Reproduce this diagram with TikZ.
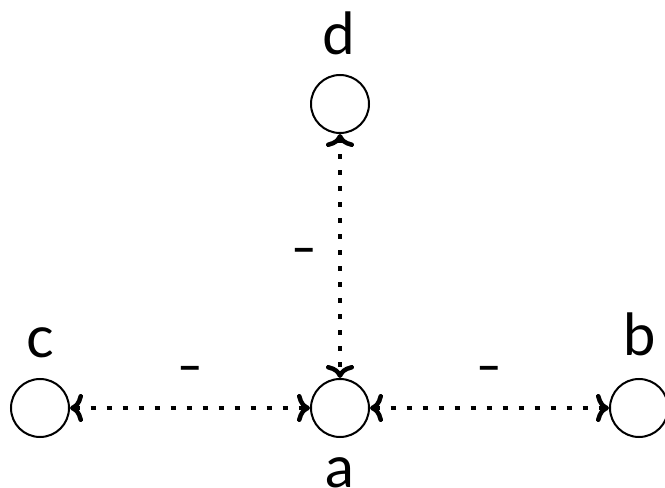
\documentclass[tikz,border=0pt]{standalone}
\usepackage{fontspec}
\setmainfont{Lato}
\usetikzlibrary{arrows.meta}
\definecolor{gink}{RGB}{0,0,0}
\tikzset{
  vert/.style={draw=gink,circle,line width=2pt,minimum size=58pt,inner sep=0pt},
  vlabel/.style={font=\fontsize{58}{66}\selectfont,text=gink,inner sep=0pt},
  signlabel/.style={font=\fontsize{44}{52}\selectfont\bfseries,text=gink,inner sep=0pt,anchor=base},
  tipcm/.tip={Computer Modern Rightarrow[length=13pt,width=28pt,line width=4.5pt]},
  link/.style={gink,line width=4pt,dash pattern=on 5pt off 11pt,tipcm-tipcm}
}
\begin{document}
\begin{tikzpicture}[x=1pt,y=1pt]
        \useasboundingbox (0,0) rectangle (665,488);
        \node[vert] (a) at (340,80) {};
        \node[vert] (b) at (639,80) {};
        \node[vert] (c) at (40,80) {};
        \node[vert] (d) at (340,384) {};
        \node[vlabel] at (340,15.5) {a};
        \node[vlabel] at (640,154) {b};
        \node[vlabel] at (40,145.5) {c};
        \node[vlabel] at (339,455) {d};
        \draw[link] (c) -- (a) node[signlabel,midway,yshift=26pt] {–};
        \draw[link] (a) -- (b) node[signlabel,midway,yshift=26pt] {–};
        \draw[link] (d) -- (a) node[signlabel,midway,xshift=-36pt,yshift=-8pt] {–};
      \end{tikzpicture}
\end{document}
